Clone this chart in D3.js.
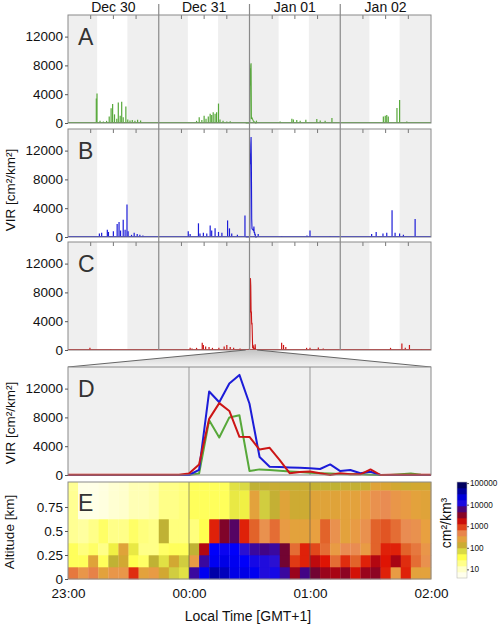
<!DOCTYPE html>
<html><head><meta charset="utf-8">
<script src="https://cdn.jsdelivr.net/npm/d3@7"></script>
<style>
body{margin:0;background:#fff}
svg{display:block}
text{font-family:"Liberation Sans",Arial,Helvetica,sans-serif;fill:#111}
</style>
</head><body>
<svg id="c" width="498" height="626"></svg>
<script>
// ---------------- DATA ----------------
const dayLabels = ["Dec 30", "Dec 31", "Jan 01", "Jan 02"];
const sunriseH = 7.7, sunsetH = 15.7;           // daylight hours (white bands)
const virTicks = [0, 4000, 8000, 12000];

// spikes in the 4-day overview: [hours since Dec 30 00:00, VIR]
const greenSpikes = [[7.49,3400],[7.67,4100],[8.47,300],[9.35,200],[10.2,300],[10.9,900],[11.4,2050],[11.8,2650],[12.3,1200],[12.9,600],[13.3,2850],[13.8,1000],[14.2,2950],[14.6,800],[15.3,2300],[15.8,500],[16.4,350],[17.0,400],[17.7,300],[18.4,450],[19.2,350],[34.0,300],[34.7,800],[35.4,400],[36.0,1000],[36.5,600],[37.1,900],[37.6,1300],[38.0,1100],[38.4,1500],[38.9,1300],[39.3,1500],[39.8,2700],[40.2,500],[41.0,300],[42.0,200],[42.9,250],[56.1,200],[59.2,600],[59.6,500],[60.5,400],[61.4,300],[62.9,450],[65.8,550],[66.7,350],[68.0,300],[69.8,700],[83.4,900],[83.9,1000],[84.3,1100],[84.7,900],[87.0,2100],[87.7,3200],[89.6,200]];
const blueSpikes = [[8.3,500],[8.9,600],[10.4,1000],[10.7,700],[12.0,800],[13.0,1800],[13.5,2100],[13.9,900],[14.6,2400],[15.1,1000],[15.6,4500],[15.9,800],[16.8,300],[17.5,600],[18.3,400],[19.0,300],[19.8,200],[31.8,800],[32.3,400],[34.5,1900],[34.9,500],[35.8,600],[36.7,500],[37.6,1600],[38.0,900],[38.9,1200],[39.8,700],[40.7,600],[42.2,2300],[42.7,1200],[43.3,500],[44.8,300],[46.8,3000],[50.3,400],[56.5,150],[63.2,200],[64.0,900],[69.3,150],[80.3,400],[81.5,700],[83.3,500],[84.3,600],[85.7,3700],[86.5,600],[87.7,500],[88.7,300],[91.8,2500]];
const redSpikes = [[5.8,300],[11.3,150],[32.3,300],[32.8,200],[34.0,300],[35.5,1000],[35.8,700],[36.4,500],[37.3,400],[38.2,300],[39.9,300],[41.3,500],[42.0,700],[42.9,400],[43.8,300],[45.5,200],[56.5,1000],[57.0,700],[57.6,400],[58.2,150],[63.1,300],[64.0,300],[66.2,350],[67.5,200],[85.3,300],[88.3,900],[89.2,300],[90.3,700],[93.5,100]];

// zoom window 23:00 - 02:00, 5-minute steps (37 points)
const zoomLabels = ["23:00", "00:00", "01:00", "02:00"];
const greenZoom = [0,0,0,0,0,0,0,0,0,0,0,0,0,200,7600,5200,8000,8300,550,780,690,600,500,400,300,250,200,150,100,100,50,0,0,100,200,50,0];
const blueZoom  = [0,0,0,0,0,0,0,0,0,0,0,0,0,700,11600,10100,12700,13900,9900,2500,1150,1100,1050,1000,950,830,1470,550,690,240,460,0,0,0,0,0,0];
const redZoom   = [50,50,50,50,50,50,50,50,50,50,50,50,200,1470,7800,9980,8900,5300,5290,3540,3770,2070,230,410,500,230,0,230,90,100,780,0,30,30,30,30,30];

// altitude bins (km) and log10 VIR density (cm2/km3), 36 five-minute columns
const altEdges = [0, 0.125, 0.25, 0.375, 0.625, 0.925, 1.01];
const altTicks = [0, 0.25, 0.5, 0.75];
const logDens_r0 = [2.75,2.55,2.7,2.4,2.55,2.55,3.05,2.4,2.5,2.2,1.9,1.8,3.9,4.25,4.6,4.5,4.3,4.3,4.25,4.05,4.1,3.9,3.45,3.85,3.6,3.45,3.4,3.5,3.2,3.45,3.5,3.1,2.5,3.1,2.4,2.4];
const logDens_r1 = [1.5,1.5,2.35,1.5,2.0,2.2,1.55,1.45,2.0,1.8,2.2,1.9,2.5,3.9,4.25,4.3,4.25,4.2,4.1,4.05,4.0,3.6,3.0,3.1,3.3,3.15,2.8,3.05,2.85,3.1,3.35,3.15,3.4,3.05,2.8,2.6];
const logDens_r2 = [1.5,1.35,1.45,1.3,1.7,2.35,1.75,1.3,1.3,1.45,1.5,1.5,2.0,3.35,4.2,4.15,4.2,4.0,3.9,3.85,3.9,3.6,2.8,3.1,2.95,2.8,2.5,2.65,2.65,2.5,2.85,3.1,3.1,2.85,2.75,2.55];
const logDens_r3 = [1.25,1.2,1.3,1.45,1.3,1.3,1.45,1.35,1.3,2.0,1.35,1.35,1.35,1.55,3.1,3.55,3.75,3.1,2.85,2.6,2.8,2.5,2.4,2.4,2.45,2.85,2.6,2.4,2.5,2.6,2.85,2.9,2.8,2.65,2.6,2.45];
const logDens_r4 = [1.25,0.8,0.8,0.85,0.95,1.0,1.1,1.1,1.15,1.3,1.3,1.35,1.5,1.5,1.5,1.5,1.75,1.7,2.4,1.9,2.05,2.35,2.15,2.15,2.35,2.35,2.35,2.4,2.4,2.5,2.6,2.65,2.55,2.5,2.4,2.35];
const logDens_r5 = [1.25,0.8,0.8,0.85,0.95,1.0,1.1,1.1,1.15,1.3,1.3,1.35,1.5,1.5,1.5,1.5,1.8,1.85,2.0,2.05,2.1,2.05,2.05,2.1,2.05,2.05,2.0,2.1,2.05,2.1,2.35,2.3,2.2,2.15,2.2,2.2];
const cbTicks = [10, 100, 1000, 10000, 100000];

// colormap stops (log10 value -> colour)
const cmapLogs = [0.6, 1.0, 1.3, 1.6, 1.85, 2.0, 2.25, 2.45, 2.65, 2.85, 3.0, 3.15, 3.4, 3.6, 3.85, 4.0, 4.2, 4.6, 5.05];
const cmapCols = ["#ffffff","#ffffcc","#ffff88","#ffff44","#dada44","#c0b234","#d6a632","#e8a040","#e98c52","#e2632a","#e03a14","#de1404","#a80414","#720432","#420486","#2a10d2","#0000fa","#0000a8","#000040"];

// ---------------- DRAW ----------------
const svg = d3.select("#c");
const L = 68, R = 431, PH = 108;
const border = "#8a8a8a", shade = "#efefef";
const cGreen = "#57a83a", cBlue = "#1c1cd8", cRed = "#cc1616";
const xT = d3.scaleLinear().domain([0, 96]).range([L, R]);
const xD = d3.scaleLinear().domain([0, 180]).range([L, R]);
const fmtV = d3.format("d");

function styleAxis(g) {
  g.select(".domain").remove();
  g.selectAll(".tick line").attr("stroke", "#555");
  g.selectAll(".tick text").attr("font-size", 13.5).attr("fill", "#111");
}
function panelLetter(t, y) {
  svg.append("text").attr("x", 78).attr("y", y).attr("font-size", 23).style("fill","#333").text(t);
}

const overview = [
  {key: "A", top: 15, color: cGreen, spikes: greenSpikes, zoom: greenZoom},
  {key: "B", top: 129, color: cBlue, spikes: blueSpikes, zoom: blueZoom},
  {key: "C", top: 242, color: cRed, spikes: redSpikes, zoom: redZoom}
];

// day labels
svg.selectAll("text.day").data(dayLabels).join("text").attr("class", "day")
  .attr("x", (d, i) => xT(i * 24 + 12)).attr("y", 12).attr("text-anchor", "middle")
  .attr("font-size", 14).text(d => d);

overview.forEach(p => {
  const y = d3.scaleLinear().domain([0, 15000]).range([p.top + PH, p.top]);
  const g = svg.append("g");
  g.append("rect").attr("x", L).attr("y", p.top).attr("width", R - L).attr("height", PH).attr("fill", "#fff");
  dayLabels.forEach((d, i) => {
    g.append("rect").attr("x", xT(i * 24)).attr("y", p.top).attr("width", xT(sunriseH) - xT(0)).attr("height", PH).attr("fill", shade);
    g.append("rect").attr("x", xT(i * 24 + sunsetH)).attr("y", p.top).attr("width", xT(24) - xT(sunsetH)).attr("height", PH).attr("fill", shade);
    [6, 12, 18].forEach(h => {
      g.append("line").attr("x1", xT(i * 24 + h)).attr("x2", xT(i * 24 + h))
        .attr("y1", p.top).attr("y2", p.top + 4).attr("stroke", "#777");
    });
  });
  // baseline
  g.append("line").attr("x1", L).attr("x2", R).attr("y1", y(60)).attr("y2", y(60))
    .attr("stroke", p.color).attr("stroke-width", 1);
  // spikes
  g.selectAll("line.sp").data(p.spikes).join("line").attr("class", "sp")
    .attr("x1", d => xT(d[0])).attr("x2", d => xT(d[0]))
    .attr("y1", y(0)).attr("y2", d => y(d[1]))
    .attr("stroke", p.color).attr("stroke-width", 1.2);
  // zoomed window data
  g.append("path").datum(p.zoom)
    .attr("d", d3.line().x((d, i) => xT(47 + i / 12)).y(d => y(d)))
    .attr("fill", "none").attr("stroke", p.color).attr("stroke-width", 1.1);
  g.append("rect").attr("x", L).attr("y", p.top).attr("width", R - L).attr("height", PH)
    .attr("fill", "none").attr("stroke", border);
  const ax = g.append("g").attr("transform", `translate(${L},0)`)
    .call(d3.axisLeft(y).tickValues(virTicks).tickSize(3).tickPadding(2).tickFormat(fmtV));
  styleAxis(ax);
  panelLetter(p.key, p.top + 30);
});

// day dividers
[24, 48, 72].forEach(h => {
  svg.append("line").attr("x1", xT(h)).attr("x2", xT(h)).attr("y1", 4).attr("y2", 242 + PH)
    .attr("stroke", "#8a8a8a").attr("stroke-width", 1.2);
});

// funnel
const DT = 367;
const grad = svg.append("defs").append("linearGradient").attr("id", "fg")
  .attr("x1", 0).attr("y1", 0).attr("x2", 0).attr("y2", 1);
grad.append("stop").attr("offset", "0%").attr("stop-color", "#c4c4c4");
grad.append("stop").attr("offset", "100%").attr("stop-color", "#f4f4f4");
const fpts = [[xT(47), 242 + PH], [xT(50), 242 + PH], [R, DT], [L, DT]];
svg.append("path").attr("d", d3.line()(fpts) + "Z").attr("fill", "url(#fg)").attr("stroke", "none");
svg.append("line").attr("x1", fpts[0][0]).attr("y1", fpts[0][1]).attr("x2", L).attr("y2", DT).attr("stroke", "#666");
svg.append("line").attr("x1", fpts[1][0]).attr("y1", fpts[1][1]).attr("x2", R).attr("y2", DT).attr("stroke", "#666");

// panel D
{
  const y = d3.scaleLinear().domain([0, 15000]).range([DT + PH, DT]);
  const g = svg.append("g");
  g.append("rect").attr("x", L).attr("y", DT).attr("width", R - L).attr("height", PH).attr("fill", "#f0f0f0");
  [60, 120].forEach(m => g.append("line").attr("x1", xD(m)).attr("x2", xD(m)).attr("y1", DT).attr("y2", DT + PH).attr("stroke", "#999"));
  const line = d3.line().x((d, i) => xD(i * 5)).y(d => y(d));
  [[greenZoom, cGreen], [blueZoom, cBlue], [redZoom, cRed]].forEach(([s, c]) => {
    g.append("path").datum(s).attr("d", line).attr("fill", "none").attr("stroke", c)
      .attr("stroke-width", 2).attr("stroke-linejoin", "round");
  });
  g.append("rect").attr("x", L).attr("y", DT).attr("width", R - L).attr("height", PH).attr("fill", "none").attr("stroke", border);
  const ax = g.append("g").attr("transform", `translate(${L},0)`)
    .call(d3.axisLeft(y).tickValues(virTicks).tickSize(3).tickPadding(2).tickFormat(fmtV));
  styleAxis(ax);
  panelLetter("D", DT + 30);
}

// panel E heatmap
const ET = 482, EB = 579;
const yE = d3.scaleLinear().domain([0, 1.01]).range([EB, ET]);
const cmap = d3.scaleLinear().domain(cmapLogs).range(cmapCols).interpolate(d3.interpolateRgb).clamp(true);
{
  const rows = [logDens_r0, logDens_r1, logDens_r2, logDens_r3, logDens_r4, logDens_r5];
  const cells = [];
  rows.forEach((r, ri) => r.forEach((v, ci) => cells.push({ri, ci, v})));
  const g = svg.append("g");
  g.selectAll("rect.cell").data(cells).join("rect").attr("class", "cell")
    .attr("x", d => xD(d.ci * 5)).attr("width", xD(5) - xD(0) + 0.3)
    .attr("y", d => yE(altEdges[d.ri + 1])).attr("height", d => yE(altEdges[d.ri]) - yE(altEdges[d.ri + 1]) + 0.3)
    .attr("fill", d => cmap(d.v));
  [60, 120].forEach(m => g.append("line").attr("x1", xD(m)).attr("x2", xD(m)).attr("y1", ET).attr("y2", EB)
    .attr("stroke", "#555").attr("stroke-opacity", 0.6));
  g.append("rect").attr("x", L).attr("y", ET).attr("width", R - L).attr("height", EB - ET).attr("fill", "none").attr("stroke", border);
  const ay = g.append("g").attr("transform", `translate(${L},0)`)
    .call(d3.axisLeft(yE).tickValues(altTicks).tickSize(3).tickPadding(2).tickFormat(d => d === 0 ? "0" : String(d)));
  styleAxis(ay);
  const ax = g.append("g").attr("transform", `translate(0,${EB})`)
    .call(d3.axisBottom(xD).tickValues([0, 60, 120, 180]).tickSize(0).tickPadding(9).tickFormat((d, i) => zoomLabels[i]));
  styleAxis(ax);
  panelLetter("E", ET + 29);
}

// colourbar
{
  const yC = d3.scaleLinear().domain([0.6, 5.05]).range([578, 482]);
  const nb = 16, step = (5.05 - 0.6) / nb;
  const bands = d3.range(nb).map(i => 0.6 + i * step);
  const g = svg.append("g");
  g.selectAll("rect").data(bands).join("rect")
    .attr("x", 457).attr("width", 10)
    .attr("y", d => yC(d + step)).attr("height", d => yC(d) - yC(d + step) + 0.3)
    .attr("fill", d => cmap(d + step / 2));
  g.append("rect").attr("x", 457).attr("y", 482).attr("width", 10).attr("height", 96).attr("fill", "none").attr("stroke", "#bbb").attr("stroke-width", 0.6);
  const ax = g.append("g").attr("transform", "translate(467,0)")
    .call(d3.axisRight(yC).tickValues(cbTicks.map(Math.log10)).tickSize(2).tickPadding(1).tickFormat((d, i) => String(cbTicks[i])));
  ax.select(".domain").remove();
  ax.selectAll(".tick line").attr("stroke", "#555");
  ax.selectAll(".tick text").attr("font-size", 8.2).attr("fill", "#111");
  svg.append("text").attr("transform", "translate(451,523) rotate(-90)").attr("text-anchor", "middle")
    .attr("font-size", 14).text("cm²/km³");
}

// axis titles
svg.append("text").attr("transform", "translate(15,190) rotate(-90)").attr("text-anchor", "middle").attr("font-size", 13.5).text("VIR [cm²/km²]");
svg.append("text").attr("transform", "translate(15,423) rotate(-90)").attr("text-anchor", "middle").attr("font-size", 13.5).text("VIR [cm²/km²]");
svg.append("text").attr("transform", "translate(14,532) rotate(-90)").attr("text-anchor", "middle").attr("font-size", 13.5).text("Altitude [km]");
svg.append("text").attr("x", 248).attr("y", 621).attr("text-anchor", "middle").attr("font-size", 14).text("Local Time [GMT+1]");
</script>
</body></html>
